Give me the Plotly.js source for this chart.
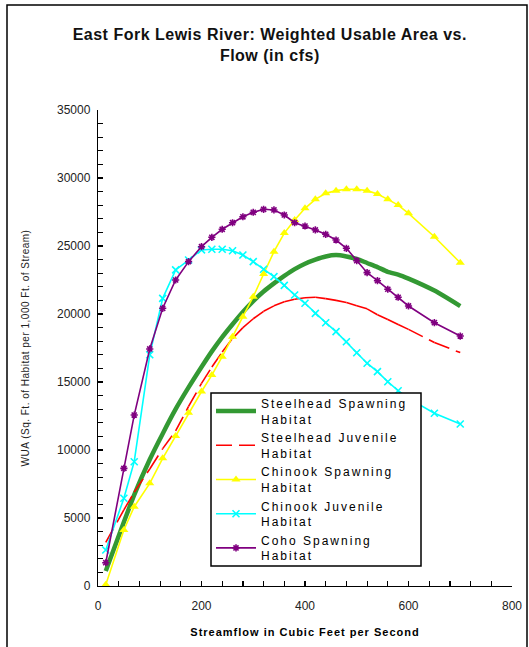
<!DOCTYPE html>
<html>
<head>
<meta charset="utf-8">
<script src="https://cdn.plot.ly/plotly-3.0.1.min.js"></script>
<style>
  html, body { margin: 0; padding: 0; background: #fff; }
  #chart { width: 529px; height: 647px; }
  .gtitle { letter-spacing: 0.5px; }
  .legendtext { letter-spacing: 2px; }
  .xtitle { letter-spacing: 1px; }
  .ytitle { letter-spacing: 0.5px; }
</style>
</head>
<body>
<div id="chart"></div>
<script>
// Streamflow (cfs)
const flow = [15, 50, 70, 100, 125, 150, 175, 200, 220, 240, 260, 280, 300, 320, 340, 360, 380, 400, 420, 440, 460, 480, 500, 520, 540, 560, 580, 600, 650, 700];

const steelheadSpawning = [1100, 4700, 6700, 9300, 11200, 13000, 14600, 16100, 17250, 18300, 19250, 20150, 20950, 21650, 22250, 22800, 23300, 23700, 24000, 24230, 24330, 24230, 24050, 23750, 23450, 23100, 22900, 22600, 21720, 20580];
const steelheadJuvenile = [3200, 5600, 6900, 8600, 10100, 11400, 13200, 14900, 16100, 17200, 18200, 19000, 19650, 20200, 20600, 20900, 21080, 21200, 21230, 21130, 21000, 20840, 20600, 20380, 19950, 19600, 19230, 18870, 17900, 17160];
const chinookSpawning = [100, 4120, 5830, 7550, 9390, 11030, 12740, 14300, 15510, 16860, 18330, 19800, 21270, 22940, 24580, 25950, 26910, 27770, 28430, 28870, 29070, 29170, 29170, 29070, 28820, 28430, 28010, 27400, 25680, 23770];
const chinookJuvenile = [2650, 6450, 9140, 17000, 21150, 23240, 23970, 24710, 24760, 24760, 24650, 24340, 23850, 23290, 22750, 22100, 21400, 20790, 20050, 19360, 18700, 17960, 17150, 16380, 15760, 15020, 14360, 13800, 12700, 11910];
const cohoSpawning = [1710, 8650, 12570, 17430, 20420, 22500, 23850, 24950, 25640, 26230, 26710, 27150, 27480, 27700, 27650, 27280, 26710, 26470, 26180, 25860, 25440, 24830, 23920, 23040, 22450, 21820, 21230, 20590, 19360, 18380];

const seriesNames = ["Steelhead Spawning<br>Habitat", "Steelhead Juvenile<br>Habitat", "Chinook Spawning<br>Habitat", "Chinook Juvenile<br>Habitat", "Coho Spawning<br>Habitat"];

const titleText = "East Fork Lewis River: Weighted Usable Area vs.<br>Flow (in cfs)";
const xTitle = "Streamflow in Cubic Feet per Second";
const yTitle = "WUA (Sq. Ft. of Habitat per 1,000 Ft. of Stream)";

const FONT = "Liberation Sans, Arial, sans-serif";

const traces = [];

traces.push({
  x: flow, y: steelheadSpawning, name: seriesNames[0], type: "scatter", mode: "lines",
  line: { color: "#339933", width: 4.5, shape: "spline", smoothing: 0.6 }
});

// Steelhead juvenile: dash restarts on each segment (as in the original drawing)
for (let i = 0; i < flow.length - 1; i++) {
  traces.push({
    x: flow.slice(i, i + 2), y: steelheadJuvenile.slice(i, i + 2),
    name: seriesNames[1], legendgroup: "sj", showlegend: i === 0,
    type: "scatter", mode: "lines",
    line: { color: "#FF0000", width: 1.6, dash: "16px,7px" }
  });
}

traces.push({
  x: flow, y: chinookSpawning, name: seriesNames[2], type: "scatter", mode: "lines+markers",
  line: { color: "#FFFF00", width: 1.6 },
  marker: { symbol: "triangle-up", size: 8, color: "#FFFF00" }
});

traces.push({
  x: flow, y: chinookJuvenile, name: seriesNames[3], type: "scatter", mode: "lines+markers",
  line: { color: "#00FFFF", width: 1.6 },
  marker: { symbol: "x-thin", size: 7, color: "#00FFFF", line: { color: "#00FFFF", width: 1.6 } }
});

traces.push({
  x: flow, y: cohoSpawning, name: seriesNames[4], type: "scatter", mode: "lines+markers",
  line: { color: "#800080", width: 1.6 },
  marker: { symbol: "asterisk", size: 6, color: "#800080", line: { color: "#800080", width: 1.6 } }
});

// geometry helpers (plot area: 98..512 px wide, 110..586 px high)
const L = 98, R = 17, T = 110, B = 61;
const PW = 529 - L - R, PH = 647 - T - B;
const px = v => (v - L) / PW;
const py = v => (647 - B - v) / PH;

const layout = {
  width: 529, height: 647,
  margin: { l: L, r: R, t: T, b: B, pad: 0 },
  paper_bgcolor: "#ffffff", plot_bgcolor: "#ffffff",
  font: { family: FONT, color: "#000000", size: 12 },
  title: {
    text: titleText, font: { family: FONT, size: 16, color: "#111", weight: "bold" },
    xref: "container", x: 0.51, xanchor: "center",
    yref: "container", y: 1 - 40 / 647, yanchor: "top"
  },
  xaxis: {
    range: [0, 800], dtick: 200, tick0: 0, tickformat: "d",
    showgrid: false, zeroline: false, showline: true, linecolor: "#000", linewidth: 1.2,
    ticks: "inside", ticklen: 5, tickwidth: 1.2, tickcolor: "#000",
    minor: { dtick: 40, ticks: "inside", ticklen: 5, tickwidth: 1.2, tickcolor: "#000", showgrid: false },
    tickfont: { family: FONT, size: 12, color: "#222" }, ticklabelstandoff: 8,
    title: { text: xTitle, font: { family: FONT, size: 11, color: "#000", weight: "bold" }, standoff: 16 },
    fixedrange: true
  },
  yaxis: {
    range: [0, 35000], dtick: 5000, tick0: 0, tickformat: "d",
    showgrid: false, zeroline: false, showline: true, linecolor: "#000", linewidth: 1.2,
    ticks: "inside", ticklen: 5, tickwidth: 1.2, tickcolor: "#000",
    minor: { dtick: 1000, ticks: "inside", ticklen: 5, tickwidth: 1.2, tickcolor: "#000", showgrid: false },
    tickfont: { family: FONT, size: 12, color: "#222" }, ticklabelstandoff: 4,
    title: { text: yTitle, font: { family: FONT, size: 10, color: "#222" }, standoff: 25 },
    fixedrange: true
  },
  showlegend: true,
  legend: {
    x: px(211), y: py(389), xanchor: "left", yanchor: "top",
    bgcolor: "rgba(0,0,0,0)", borderwidth: 0,
    font: { family: FONT, size: 12, color: "#000" },
    itemwidth: 40, tracegroupgap: 0, traceorder: "normal"
  },
  shapes: [
    // legend box
    { type: "rect", xref: "paper", yref: "paper", layer: "above",
      x0: px(211), x1: px(421), y0: py(566), y1: py(393),
      fillcolor: "#ffffff", line: { color: "#000", width: 1.5 } },
    // figure frame
    { type: "rect", xref: "paper", yref: "paper", layer: "below",
      x0: px(7), x1: px(527), y0: py(700), y1: py(5),
      fillcolor: "rgba(0,0,0,0)", line: { color: "#000", width: 1.5 } }
  ],
  hovermode: false
};

Plotly.newPlot("chart", traces, layout, { displayModeBar: false, staticPlot: true });
</script>
</body>
</html>
